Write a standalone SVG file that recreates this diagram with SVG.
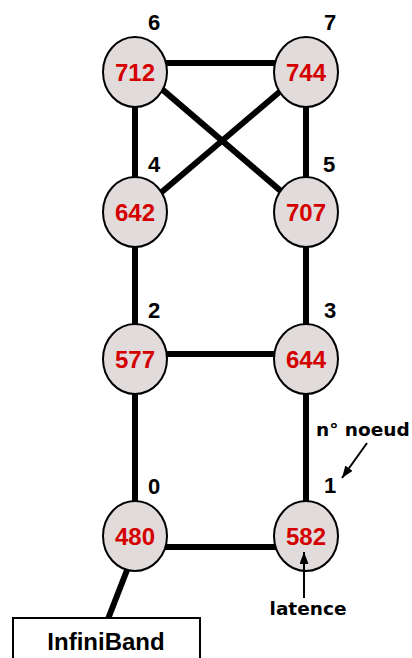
<svg xmlns="http://www.w3.org/2000/svg" width="412" height="658" viewBox="0 0 412 658">
<defs>
<style>
.edge{stroke:#000;stroke-width:6;fill:none}
.node ellipse{fill:#e2dbdb;stroke:#000;stroke-width:2}
.val{font-family:"Liberation Sans",Arial,sans-serif;font-weight:bold;font-size:24px;fill:#d40000;text-anchor:middle}
.num{font-family:"Liberation Sans",Arial,sans-serif;font-weight:bold;font-size:22px;fill:#000}
.ann{font-family:"DejaVu Sans",sans-serif;font-weight:bold;font-size:18.5px;fill:#000}
.thin{stroke:#000;stroke-width:2;fill:none}
</style>
<marker id="ah2" viewBox="0 0 10 10" refX="10" refY="5" markerWidth="12" markerHeight="9" markerUnits="userSpaceOnUse" orient="auto" preserveAspectRatio="none">
<path d="M0,0 L10,5 L0,10 z" fill="#000"/>
</marker>
</defs>
<rect width="412" height="658" fill="#fff"/>
<g id="connectors">
<line class="edge" x1="150" y1="63" x2="290" y2="63"/>
<line class="edge" x1="135" y1="90" x2="135" y2="190"/>
<line class="edge" x1="306" y1="90" x2="306" y2="190"/>
<line class="edge" x1="152" y1="80.6" x2="292" y2="200.6"/>
<line class="edge" x1="290" y1="83" x2="150" y2="202"/>
<line class="edge" x1="135" y1="230" x2="135" y2="340"/>
<line class="edge" x1="306" y1="230" x2="306" y2="340"/>
<line class="edge" x1="150" y1="354" x2="290" y2="354"/>
<line class="edge" x1="135" y1="380" x2="135" y2="520"/>
<line class="edge" x1="306" y1="380" x2="306" y2="520"/>
<line class="edge" x1="150" y1="547" x2="290" y2="547"/>
<line class="edge" x1="129" y1="565" x2="108" y2="619"/>
</g>
<g id="n6" class="node"><ellipse cx="135" cy="72" rx="32" ry="35"/><text class="val" x="135" y="81">712</text><text class="num" x="148" y="30">6</text></g>
<g id="n7" class="node"><ellipse cx="306" cy="72" rx="32" ry="35"/><text class="val" x="306" y="81">744</text><text class="num" x="324" y="30">7</text></g>
<g id="n4" class="node"><ellipse cx="135" cy="212" rx="32" ry="35"/><text class="val" x="135" y="221">642</text><text class="num" x="148" y="172">4</text></g>
<g id="n5" class="node"><ellipse cx="306" cy="212" rx="32" ry="35"/><text class="val" x="306" y="221">707</text><text class="num" x="323" y="172">5</text></g>
<g id="n2" class="node"><ellipse cx="135" cy="359" rx="32" ry="35"/><text class="val" x="135" y="368">577</text><text class="num" x="148" y="318">2</text></g>
<g id="n3" class="node"><ellipse cx="306" cy="359" rx="32" ry="35"/><text class="val" x="306" y="368">644</text><text class="num" x="324" y="318">3</text></g>
<g id="n0" class="node"><ellipse cx="135" cy="536" rx="32" ry="35"/><text class="val" x="135" y="545">480</text><text class="num" x="148" y="494">0</text></g>
<g id="n1" class="node"><ellipse cx="306" cy="536" rx="32" ry="35"/><text class="val" x="306" y="545">582</text><text class="num" x="324" y="493">1</text></g>
<g id="infiniband">
<rect x="13" y="618" width="187" height="50" fill="#fff" stroke="#000" stroke-width="2"/>
<text x="106" y="650" font-family="Liberation Sans, Arial, sans-serif" font-weight="bold" font-size="24" text-anchor="middle">InfiniBand</text>
</g>
<g id="annotations">
<text class="ann" x="316" y="436">n° noeud</text>
<line class="thin" x1="367" y1="443" x2="342" y2="478" marker-end="url(#ah2)"/>
<text class="ann" x="308" y="615" text-anchor="middle">latence</text>
<line class="thin" x1="304" y1="598" x2="304" y2="552" marker-end="url(#ah2)"/>
</g>
</svg>
